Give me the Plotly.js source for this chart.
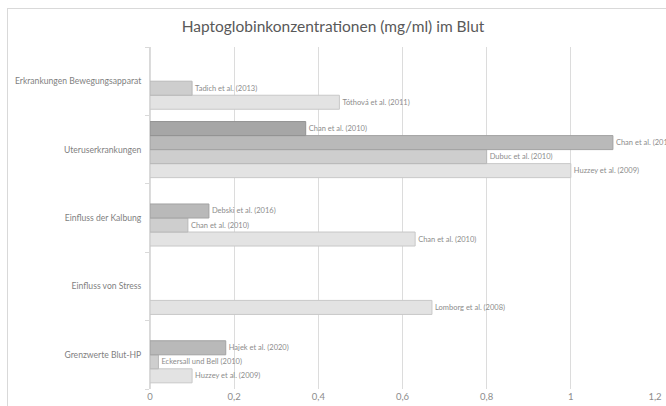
<!DOCTYPE html>
<html>
<head>
<meta charset="utf-8">
<script src="https://cdn.plot.ly/plotly-3.0.1.min.js"></script>
<style>
  html, body { margin: 0; padding: 0; background: #ffffff; }
  #chart { width: 666px; height: 406px; position: absolute; left: 0; top: 0; }
  #frame { position: absolute; left: 7px; top: 8px; width: 700px; height: 440px; border: 1px solid #d9d9d9; pointer-events: none; }
</style>
</head>
<body>
<div id="chart"></div>
<div id="frame"></div>
<script>
// Categories (bottom to top)
var categories = ["Grenzwerte Blut-HP", "Einfluss von Stress", "Einfluss der Kalbung", "Uteruserkrankungen", "Erkrankungen Bewegungsapparat"];

// Series slot 4 (lightest, lowest bar in each group)
var s4Values = [0.10, 0.67, 0.63, 1.00, 0.45];
var s4Labels = ["Huzzey et al. (2009)", "Lomborg et al. (2008)", "Chan et al. (2010)", "Huzzey et al. (2009)", "Tóthová et al. (2011)"];

// Series slot 3
var s3Values = [0.02, null, 0.09, 0.80, 0.10];
var s3Labels = ["Eckersall und Bell (2010)", "", "Chan et al. (2010)", "Dubuc et al. (2010)", "Tadich et al. (2013)"];

// Series slot 2
var s2Values = [0.18, null, 0.14, 1.10, null];
var s2Labels = ["Hajek et al. (2020)", "", "Debski et al. (2016)", "Chan et al. (2010)", ""];

// Series slot 1 (darkest, top bar in each group)
var s1Values = [null, null, null, 0.37, null];
var s1Labels = ["", "", "", "Chan et al. (2010)", ""];

var xTickVals = [0, 0.2, 0.4, 0.6, 0.8, 1, 1.2];
var xTickText = ["0", "0,2", "0,4", "0,6", "0,8", "1", "1,2"];

var FONT = "Lato, 'Open Sans', sans-serif";

function mk(vals, labels, fill, line) {
  return {
    type: "bar", orientation: "h",
    y: categories, x: vals,
    text: labels, textposition: "outside",
    textfont: {family: FONT, size: 7.5, color: "#8c8c8c"},
    constraintext: "none", cliponaxis: false,
    marker: {color: fill, line: {color: line, width: 1}},
    hoverinfo: "x+y", showlegend: false
  };
}

var data = [
  mk(s4Values, s4Labels, "#e3e3e3", "#c8c8c8"),
  mk(s3Values, s3Labels, "#cecece", "#b8b8b8"),
  mk(s2Values, s2Labels, "#b9b9b9", "#a2a2a2"),
  mk(s1Values, s1Labels, "#a6a6a6", "#929292")
];

var layout = {
  width: 666, height: 406,
  margin: {l: 150, r: 11, t: 47, b: 17},
  paper_bgcolor: "#ffffff", plot_bgcolor: "#ffffff",
  barmode: "group", bargap: 0.18, bargroupgap: 0,
  title: {text: "Haptoglobinkonzentrationen (mg/ml) im Blut", x: 0.5, xanchor: "center", y: 0.935, yanchor: "middle",
          font: {family: FONT, size: 15.5, color: "#595959"}},
  xaxis: {
    range: [0, 1.2], tickvals: xTickVals, ticktext: xTickText,
    showgrid: true, gridcolor: "#dcdcdc", gridwidth: 1,
    zeroline: true, zerolinecolor: "#dcdcdc", zerolinewidth: 1,
    showline: false, ticks: "",
    tickfont: {family: FONT, size: 9.5, color: "#8c8c8c"}
  },
  yaxis: {
    type: "category", categoryorder: "array", categoryarray: categories,
    tickson: "boundaries", ticks: "outside", ticklen: 4, tickcolor: "#d9d9d9",
    showline: true, linecolor: "#d9d9d9", showgrid: false, zeroline: false,
    ticklabelstandoff: 6,
    tickfont: {family: FONT, size: 8.6, color: "#7f7f7f"}
  }
};

Plotly.newPlot("chart", data, layout, {displayModeBar: false, staticPlot: true});
</script>
</body>
</html>
